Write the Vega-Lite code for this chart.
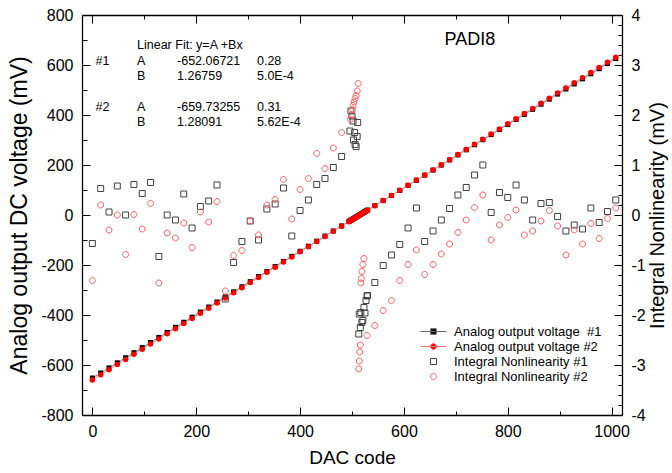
{
  "$schema": "https://vega.github.io/schema/vega-lite/v6.json",
  "width": 540,
  "height": 400,
  "autosize": {"type": "none"},
  "padding": {"left": 82, "top": 15, "right": 50, "bottom": 58},
  "background": "white",
  "datasets": {
    "volt": [
      {"dac":0,"v1":-652.1,"v2":-659.7},{"dac":16,"v1":-631.8,"v2":-639.2},{"dac":32,"v1":-611.5,"v2":-618.7},{"dac":48,"v1":-591.2,"v2":-598.2},
      {"dac":64,"v1":-570.9,"v2":-577.8},{"dac":80,"v1":-550.7,"v2":-557.3},{"dac":96,"v1":-530.4,"v2":-536.8},{"dac":112,"v1":-510.1,"v2":-516.3},
      {"dac":128,"v1":-489.8,"v2":-495.8},{"dac":144,"v1":-469.5,"v2":-475.3},{"dac":160,"v1":-449.3,"v2":-454.8},{"dac":176,"v1":-429.0,"v2":-434.3},
      {"dac":192,"v1":-408.7,"v2":-413.8},{"dac":208,"v1":-388.4,"v2":-393.3},{"dac":224,"v1":-368.1,"v2":-372.8},{"dac":240,"v1":-347.9,"v2":-352.3},
      {"dac":256,"v1":-327.6,"v2":-331.8},{"dac":272,"v1":-307.3,"v2":-311.3},{"dac":288,"v1":-287.0,"v2":-290.8},{"dac":304,"v1":-266.7,"v2":-270.3},
      {"dac":320,"v1":-246.4,"v2":-249.8},{"dac":336,"v1":-226.2,"v2":-229.3},{"dac":352,"v1":-205.9,"v2":-208.9},{"dac":368,"v1":-185.6,"v2":-188.4},
      {"dac":384,"v1":-165.3,"v2":-167.9},{"dac":400,"v1":-145.0,"v2":-147.4},{"dac":416,"v1":-124.8,"v2":-126.9},{"dac":432,"v1":-104.5,"v2":-106.4},
      {"dac":448,"v1":-84.2,"v2":-85.9},{"dac":464,"v1":-63.9,"v2":-65.4},{"dac":480,"v1":-43.6,"v2":-44.9},
      {"dac":494,"v1":-25.9,"v2":-27.0},{"dac":496,"v1":-23.4,"v2":-24.4},{"dac":498,"v1":-20.8,"v2":-21.8},{"dac":500,"v1":-18.3,"v2":-19.3},
      {"dac":502,"v1":-15.7,"v2":-16.7},{"dac":504,"v1":-13.2,"v2":-14.2},{"dac":506,"v1":-10.7,"v2":-11.6},{"dac":508,"v1":-8.1,"v2":-9.0},
      {"dac":510,"v1":-5.6,"v2":-6.5},{"dac":512,"v1":-3.1,"v2":-3.9},{"dac":514,"v1":-0.5,"v2":-1.3},{"dac":516,"v1":2.0,"v2":1.2},
      {"dac":518,"v1":4.5,"v2":3.8},{"dac":520,"v1":7.1,"v2":6.3},{"dac":522,"v1":9.6,"v2":8.9},{"dac":524,"v1":12.2,"v2":11.5},
      {"dac":526,"v1":14.7,"v2":14.0},{"dac":528,"v1":17.2,"v2":16.6},{"dac":530,"v1":19.8,"v2":19.2},
      {"dac":544,"v1":37.5,"v2":37.1},{"dac":560,"v1":57.8,"v2":57.6},{"dac":576,"v1":78.0,"v2":78.1},{"dac":592,"v1":98.3,"v2":98.6},
      {"dac":608,"v1":118.6,"v2":119.1},{"dac":624,"v1":138.9,"v2":139.6},{"dac":640,"v1":159.2,"v2":160.1},{"dac":656,"v1":179.5,"v2":180.5},
      {"dac":672,"v1":199.7,"v2":201.0},{"dac":688,"v1":220.0,"v2":221.5},{"dac":704,"v1":240.3,"v2":242.0},{"dac":720,"v1":260.6,"v2":262.5},
      {"dac":736,"v1":280.9,"v2":283.0},{"dac":752,"v1":301.1,"v2":303.5},{"dac":768,"v1":321.4,"v2":324.0},{"dac":784,"v1":341.7,"v2":344.5},
      {"dac":800,"v1":362.0,"v2":365.0},{"dac":816,"v1":382.3,"v2":385.5},{"dac":832,"v1":402.5,"v2":406.0},{"dac":848,"v1":422.8,"v2":426.5},
      {"dac":864,"v1":443.1,"v2":447.0},{"dac":880,"v1":463.4,"v2":467.5},{"dac":896,"v1":483.7,"v2":488.0},{"dac":912,"v1":503.9,"v2":508.5},
      {"dac":928,"v1":524.2,"v2":529.0},{"dac":944,"v1":544.5,"v2":549.4},{"dac":960,"v1":564.8,"v2":569.9},{"dac":976,"v1":585.1,"v2":590.4},
      {"dac":992,"v1":605.3,"v2":610.9},{"dac":1008,"v1":625.6,"v2":631.4}
    ],
    "inl": [
      {"dac":0,"inl":-0.57,"s":"INL1"},{"dac":16,"inl":0.53,"s":"INL1"},{"dac":32,"inl":0.06,"s":"INL1"},{"dac":48,"inl":0.58,"s":"INL1"},
      {"dac":64,"inl":0.0,"s":"INL1"},{"dac":80,"inl":0.61,"s":"INL1"},{"dac":96,"inl":0.43,"s":"INL1"},{"dac":112,"inl":0.65,"s":"INL1"},
      {"dac":128,"inl":-0.83,"s":"INL1"},{"dac":144,"inl":0.0,"s":"INL1"},{"dac":160,"inl":-0.1,"s":"INL1"},{"dac":176,"inl":0.42,"s":"INL1"},
      {"dac":192,"inl":-0.26,"s":"INL1"},{"dac":208,"inl":0.17,"s":"INL1"},{"dac":224,"inl":0.28,"s":"INL1"},{"dac":240,"inl":0.6,"s":"INL1"},
      {"dac":256,"inl":-1.68,"s":"INL1"},{"dac":272,"inl":-0.95,"s":"INL1"},{"dac":288,"inl":-0.53,"s":"INL1"},{"dac":304,"inl":-0.12,"s":"INL1"},
      {"dac":320,"inl":-0.5,"s":"INL1"},{"dac":336,"inl":0.12,"s":"INL1"},{"dac":352,"inl":0.22,"s":"INL1"},{"dac":368,"inl":0.54,"s":"INL1"},
      {"dac":384,"inl":-0.42,"s":"INL1"},{"dac":400,"inl":0.09,"s":"INL1"},{"dac":416,"inl":0.3,"s":"INL1"},{"dac":432,"inl":0.61,"s":"INL1"},
      {"dac":448,"inl":0.73,"s":"INL1"},{"dac":464,"inl":0.95,"s":"INL1"},{"dac":480,"inl":1.17,"s":"INL1"},
      {"dac":496,"inl":1.68,"s":"INL1"},{"dac":498,"inl":2.08,"s":"INL1"},{"dac":500,"inl":1.98,"s":"INL1"},{"dac":502,"inl":1.88,"s":"INL1"},
      {"dac":503,"inl":1.5,"s":"INL1"},{"dac":505,"inl":1.65,"s":"INL1"},{"dac":506,"inl":1.41,"s":"INL1"},{"dac":508,"inl":1.37,"s":"INL1"},
      {"dac":510,"inl":1.57,"s":"INL1"},{"dac":511,"inl":1.85,"s":"INL1"},
      {"dac":513,"inl":-2.38,"s":"INL1"},{"dac":514,"inl":-1.98,"s":"INL1"},{"dac":516,"inl":-2.25,"s":"INL1"},{"dac":517,"inl":-1.95,"s":"INL1"},
      {"dac":519,"inl":-2.15,"s":"INL1"},{"dac":521,"inl":-2.11,"s":"INL1"},{"dac":523,"inl":-1.85,"s":"INL1"},{"dac":525,"inl":-1.96,"s":"INL1"},
      {"dac":527,"inl":-1.71,"s":"INL1"},{"dac":529,"inl":-1.62,"s":"INL1"},{"dac":530,"inl":-1.61,"s":"INL1"},
      {"dac":544,"inl":-1.35,"s":"INL1"},{"dac":560,"inl":-1.01,"s":"INL1"},{"dac":576,"inl":-0.8,"s":"INL1"},{"dac":592,"inl":-0.59,"s":"INL1"},
      {"dac":608,"inl":-0.26,"s":"INL1"},{"dac":624,"inl":0.14,"s":"INL1"},{"dac":640,"inl":-0.53,"s":"INL1"},{"dac":656,"inl":-0.32,"s":"INL1"},
      {"dac":672,"inl":-0.1,"s":"INL1"},{"dac":688,"inl":0.13,"s":"INL1"},{"dac":704,"inl":0.4,"s":"INL1"},{"dac":720,"inl":0.55,"s":"INL1"},
      {"dac":736,"inl":0.8,"s":"INL1"},{"dac":752,"inl":1.0,"s":"INL1"},{"dac":768,"inl":0.05,"s":"INL1"},{"dac":784,"inl":0.45,"s":"INL1"},
      {"dac":800,"inl":0.35,"s":"INL1"},{"dac":816,"inl":0.6,"s":"INL1"},{"dac":832,"inl":0.3,"s":"INL1"},{"dac":848,"inl":-0.1,"s":"INL1"},
      {"dac":864,"inl":0.23,"s":"INL1"},{"dac":880,"inl":0.25,"s":"INL1"},{"dac":896,"inl":-0.03,"s":"INL1"},{"dac":912,"inl":-0.32,"s":"INL1"},
      {"dac":928,"inl":-0.2,"s":"INL1"},{"dac":944,"inl":-0.28,"s":"INL1"},{"dac":960,"inl":0.14,"s":"INL1"},{"dac":976,"inl":-0.15,"s":"INL1"},
      {"dac":992,"inl":0.07,"s":"INL1"},{"dac":1008,"inl":0.3,"s":"INL1"},

      {"dac":0,"inl":-1.31,"s":"INL2"},{"dac":16,"inl":0.2,"s":"INL2"},{"dac":32,"inl":-0.3,"s":"INL2"},{"dac":48,"inl":0.0,"s":"INL2"},
      {"dac":64,"inl":-0.79,"s":"INL2"},{"dac":80,"inl":0.01,"s":"INL2"},{"dac":96,"inl":-0.28,"s":"INL2"},{"dac":112,"inl":0.23,"s":"INL2"},
      {"dac":128,"inl":-1.36,"s":"INL2"},{"dac":144,"inl":-0.36,"s":"INL2"},{"dac":160,"inl":-0.46,"s":"INL2"},{"dac":176,"inl":-0.16,"s":"INL2"},
      {"dac":192,"inl":-0.65,"s":"INL2"},{"dac":208,"inl":0.06,"s":"INL2"},{"dac":224,"inl":-0.14,"s":"INL2"},{"dac":240,"inl":0.27,"s":"INL2"},
      {"dac":256,"inl":-1.52,"s":"INL2"},{"dac":272,"inl":-0.81,"s":"INL2"},{"dac":288,"inl":-0.71,"s":"INL2"},{"dac":304,"inl":-0.12,"s":"INL2"},
      {"dac":320,"inl":-0.4,"s":"INL2"},{"dac":336,"inl":0.2,"s":"INL2"},{"dac":352,"inl":0.31,"s":"INL2"},{"dac":368,"inl":0.71,"s":"INL2"},
      {"dac":384,"inl":-0.08,"s":"INL2"},{"dac":400,"inl":0.51,"s":"INL2"},{"dac":416,"inl":0.73,"s":"INL2"},{"dac":432,"inl":1.23,"s":"INL2"},
      {"dac":448,"inl":0.93,"s":"INL2"},{"dac":464,"inl":1.34,"s":"INL2"},{"dac":480,"inl":1.65,"s":"INL2"},
      {"dac":497,"inl":1.91,"s":"INL2"},{"dac":499,"inl":2.01,"s":"INL2"},{"dac":501,"inl":2.11,"s":"INL2"},{"dac":502,"inl":2.19,"s":"INL2"},
      {"dac":504,"inl":2.26,"s":"INL2"},{"dac":506,"inl":2.33,"s":"INL2"},{"dac":508,"inl":2.39,"s":"INL2"},{"dac":510,"inl":2.48,"s":"INL2"},
      {"dac":512,"inl":2.63,"s":"INL2"},
      {"dac":513,"inl":-3.08,"s":"INL2"},{"dac":514,"inl":-2.92,"s":"INL2"},{"dac":515,"inl":-2.74,"s":"INL2"},{"dac":516,"inl":-2.6,"s":"INL2"},
      {"dac":517,"inl":-1.36,"s":"INL2"},{"dac":518,"inl":-1.27,"s":"INL2"},{"dac":519,"inl":-1.13,"s":"INL2"},{"dac":521,"inl":-0.99,"s":"INL2"},
      {"dac":523,"inl":-0.87,"s":"INL2"},{"dac":529,"inl":-2.41,"s":"INL2"},
      {"dac":544,"inl":-2.21,"s":"INL2"},{"dac":560,"inl":-1.91,"s":"INL2"},{"dac":576,"inl":-1.71,"s":"INL2"},{"dac":592,"inl":-1.31,"s":"INL2"},
      {"dac":608,"inl":-0.99,"s":"INL2"},{"dac":624,"inl":-0.7,"s":"INL2"},{"dac":640,"inl":-1.19,"s":"INL2"},{"dac":656,"inl":-0.99,"s":"INL2"},
      {"dac":672,"inl":-0.78,"s":"INL2"},{"dac":688,"inl":-0.58,"s":"INL2"},{"dac":704,"inl":-0.35,"s":"INL2"},{"dac":720,"inl":-0.1,"s":"INL2"},
      {"dac":736,"inl":0.15,"s":"INL2"},{"dac":752,"inl":0.4,"s":"INL2"},{"dac":768,"inl":-0.5,"s":"INL2"},{"dac":784,"inl":-0.2,"s":"INL2"},
      {"dac":800,"inl":-0.05,"s":"INL2"},{"dac":816,"inl":0.1,"s":"INL2"},{"dac":832,"inl":-0.4,"s":"INL2"},{"dac":848,"inl":-0.32,"s":"INL2"},
      {"dac":864,"inl":-0.12,"s":"INL2"},{"dac":880,"inl":0.09,"s":"INL2"},{"dac":896,"inl":-0.22,"s":"INL2"},{"dac":912,"inl":-0.8,"s":"INL2"},
      {"dac":928,"inl":-0.3,"s":"INL2"},{"dac":944,"inl":-0.58,"s":"INL2"},{"dac":960,"inl":-0.17,"s":"INL2"},{"dac":976,"inl":-0.47,"s":"INL2"},
      {"dac":992,"inl":-0.07,"s":"INL2"},{"dac":1008,"inl":0.14,"s":"INL2"}
    ],
    "notes": [
      {"dac":86,"mv":680,"t":"Linear Fit: y=A +Bx"},
      {"dac":6,"mv":616,"t":"#1"},{"dac":86,"mv":616,"t":"A"},{"dac":163,"mv":616,"t":"-652.06721"},{"dac":317,"mv":616,"t":"0.28"},
      {"dac":86,"mv":556,"t":"B"},{"dac":163,"mv":556,"t":"1.26759"},{"dac":317,"mv":556,"t":"5.0E-4"},
      {"dac":6,"mv":432,"t":"#2"},{"dac":86,"mv":432,"t":"A"},{"dac":163,"mv":432,"t":"-659.73255"},{"dac":317,"mv":432,"t":"0.31"},
      {"dac":86,"mv":372,"t":"B"},{"dac":163,"mv":372,"t":"1.28091"},{"dac":317,"mv":372,"t":"5.62E-4"}
    ],
    "titleNote": [{"dac":727,"mv":700,"t":"PADI8"}]
  },
  "layer": [
    {
      "data": {"name": "volt"},
      "mark": {"type": "line", "color": "#808080", "strokeWidth": 1},
      "encoding": {
        "x": {
          "field": "dac", "type": "quantitative",
          "scale": {"domain": [-20, 1020], "nice": false, "zero": false},
          "axis": {
            "orient": "bottom", "title": "DAC code",
            "values": [0,200,400,600,800,1000],
            "labelExpr": "'' + datum.value",
            "tickSize": -8, "labelPadding": 16, "titlePadding": 9
          }
        },
        "y": {
          "field": "v1", "type": "quantitative",
          "scale": {"domain": [-800, 800], "nice": false, "zero": false},
          "axis": {
            "orient": "left", "title": "Analog output DC voltage (mV)", "titleFontSize": 23,
            "values": [-800,-600,-400,-200,0,200,400,600,800],
            "labelExpr": "'' + datum.value",
            "tickSize": -8, "labelPadding": 17, "titlePadding": 9
          }
        }
      }
    },
    {
      "data": {"name": "volt"},
      "mark": {"type": "point", "shape": "square", "filled": true, "color": "#000000", "size": 25, "opacity": 1},
      "encoding": {
        "x": {"field": "dac", "type": "quantitative", "scale": {"domain": [-20, 1020], "nice": false, "zero": false}, "axis": null},
        "y": {"field": "v1", "type": "quantitative", "scale": {"domain": [-800, 800], "nice": false, "zero": false}, "axis": null}
      }
    },
    {
      "data": {"name": "volt"},
      "mark": {"type": "line", "color": "#ff8a8a", "strokeWidth": 1},
      "encoding": {
        "x": {"field": "dac", "type": "quantitative", "scale": {"domain": [-20, 1020], "nice": false, "zero": false}, "axis": null},
        "y": {"field": "v2", "type": "quantitative", "scale": {"domain": [-800, 800], "nice": false, "zero": false}, "axis": null}
      }
    },
    {
      "data": {"name": "volt"},
      "mark": {"type": "point", "shape": "circle", "filled": true, "color": "#ff0000", "size": 30, "opacity": 1},
      "encoding": {
        "x": {"field": "dac", "type": "quantitative", "scale": {"domain": [-20, 1020], "nice": false, "zero": false}, "axis": null},
        "y": {"field": "v2", "type": "quantitative", "scale": {"domain": [-800, 800], "nice": false, "zero": false}, "axis": null}
      }
    },
    {
      "data": {"name": "notes"},
      "mark": {"type": "text", "align": "left", "baseline": "middle", "font": "Liberation Sans", "fontSize": 12.5, "color": "#000000"},
      "encoding": {
        "x": {"field": "dac", "type": "quantitative", "scale": {"domain": [-20, 1020], "nice": false, "zero": false}, "axis": null},
        "y": {"field": "mv", "type": "quantitative", "scale": {"domain": [-800, 800], "nice": false, "zero": false}, "axis": null},
        "text": {"field": "t"}
      }
    },
    {
      "data": {"name": "titleNote"},
      "mark": {"type": "text", "align": "center", "baseline": "middle", "font": "Liberation Sans", "fontSize": 18, "color": "#000000"},
      "encoding": {
        "x": {"field": "dac", "type": "quantitative", "scale": {"domain": [-20, 1020], "nice": false, "zero": false}, "axis": null},
        "y": {"field": "mv", "type": "quantitative", "scale": {"domain": [-800, 800], "nice": false, "zero": false}, "axis": null},
        "text": {"field": "t"}
      }
    },
    {
      "data": {"name": "inl"},
      "transform": [{"filter": "false"}],
      "mark": {"type": "point"},
      "encoding": {
        "x": {
          "field": "dac", "type": "quantitative",
          "scale": {"domain": [-20, 1020], "nice": false, "zero": false},
          "axis": {"orient": "bottom", "title": null, "labels": false, "domain": false, "values": [100,300,500,700,900], "tickSize": -4}
        },
        "y": {
          "field": "inl", "type": "quantitative",
          "scale": {"domain": [-800, 800], "nice": false, "zero": false},
          "axis": {"orient": "left", "title": null, "labels": false, "domain": false, "values": [-700,-500,-300,-100,100,300,500,700], "tickSize": -5}
        }
      }
    },
    {
      "data": {"name": "inl"},
      "transform": [{"filter": "false"}],
      "mark": {"type": "point"},
      "encoding": {
        "x": {
          "field": "dac", "type": "quantitative",
          "scale": {"domain": [-20, 1020], "nice": false, "zero": false},
          "axis": {"orient": "top", "title": null, "labels": false, "domain": false, "values": [100,300,500,700,900], "tickSize": -4}
        },
        "y": {
          "field": "inl", "type": "quantitative",
          "scale": {"domain": [-4, 4], "nice": false, "zero": false},
          "axis": {"orient": "right", "title": null, "labels": false, "domain": false,
            "values": [-3.8,-3.6,-3.4,-3.2,-2.8,-2.6,-2.4,-2.2,-1.8,-1.6,-1.4,-1.2,-0.8,-0.6,-0.4,-0.2,0.2,0.4,0.6,0.8,1.2,1.4,1.6,1.8,2.2,2.4,2.6,2.8,3.2,3.4,3.6,3.8],
            "tickSize": -4}
        }
      }
    },
    {
      "data": {"name": "inl"},
      "mark": {"type": "point", "size": 49, "strokeWidth": 1, "opacity": 1},
      "encoding": {
        "x": {
          "field": "dac", "type": "quantitative",
          "scale": {"domain": [-20, 1020], "nice": false, "zero": false},
          "axis": {
            "orient": "top", "title": null, "labels": false,
            "values": [0,200,400,600,800,1000], "tickSize": -8
          }
        },
        "y": {
          "field": "inl", "type": "quantitative",
          "scale": {"domain": [-4, 4], "nice": false, "zero": false},
          "axis": {
            "orient": "right", "title": "Integral Nonlinearity (mV)", "titleFontSize": 20,
            "titleAngle": 270, "titleBaseline": "top",
            "values": [-4,-3,-2,-1,0,1,2,3,4],
            "labelExpr": "'' + datum.value",
            "tickSize": -8, "labelPadding": 17, "titlePadding": 2
          }
        },
        "shape": {
          "field": "s", "type": "nominal",
          "scale": {
            "domain": ["V1", "V2", "INL1", "INL2"],
            "range": [
              "M-3.7,0H3.7M-0.8,-0.8H0.8V0.8H-0.8Z",
              "M-3.7,0H3.7M0.85,0A0.85,0.85,0,1,1,-0.85,0A0.85,0.85,0,1,1,0.85,0Z",
              "M-0.85,-0.85H0.85V0.85H-0.85Z",
              "M0.85,0A0.85,0.85,0,1,1,-0.85,0A0.85,0.85,0,1,1,0.85,0Z"
            ]
          },
          "legend": {
            "orient": "none", "legendX": 345, "legendY": 310, "title": null,
            "labelExpr": "datum.label == 'V1' ? 'Analog output voltage\u00a0 #1' : datum.label == 'V2' ? 'Analog output voltage #2' : datum.label == 'INL1' ? 'Integral Nonlinearity #1' : 'Integral Nonlinearity #2'"
          }
        },
        "fill": {
          "field": "s", "type": "nominal",
          "scale": {"domain": ["V1", "V2", "INL1", "INL2"], "range": ["#000000", "#ff0000", "transparent", "transparent"]},
          "legend": {
            "orient": "none", "legendX": 345, "legendY": 310, "title": null,
            "labelExpr": "datum.label == 'V1' ? 'Analog output voltage\u00a0 #1' : datum.label == 'V2' ? 'Analog output voltage #2' : datum.label == 'INL1' ? 'Integral Nonlinearity #1' : 'Integral Nonlinearity #2'"
          }
        },
        "stroke": {
          "field": "s", "type": "nominal",
          "scale": {"domain": ["V1", "V2", "INL1", "INL2"], "range": ["#666666", "#ff6a6a", "#404040", "#ff5a5a"]},
          "legend": {
            "orient": "none", "legendX": 345, "legendY": 310, "title": null,
            "labelExpr": "datum.label == 'V1' ? 'Analog output voltage\u00a0 #1' : datum.label == 'V2' ? 'Analog output voltage #2' : datum.label == 'INL1' ? 'Integral Nonlinearity #1' : 'Integral Nonlinearity #2'"
          }
        }
      }
    }
  ],
  "resolve": {
    "scale": {"y": "independent"},
    "axis": {"x": "independent", "y": "independent"}
  },
  "config": {
    "view": {"stroke": null},
    "axis": {
      "labelFont": "Liberation Sans", "titleFont": "Liberation Sans",
      "labelFontSize": 16, "titleFontSize": 19, "titleFontWeight": "normal",
      "labelColor": "#000000", "titleColor": "#000000",
      "domainColor": "#000000", "tickColor": "#000000",
      "domainWidth": 1.3, "tickWidth": 1, "grid": false,
      "labelFlush": false, "labelOverlap": false, "labelBound": false
    },
    "legend": {
      "symbolSize": 49, "symbolStrokeWidth": 1, "symbolOpacity": 1,
      "labelFont": "Liberation Sans", "labelFontSize": 13, "labelColor": "#000000",
      "labelOffset": 14, "labelLimit": 300, "rowPadding": 1, "padding": 0
    }
  }
}
